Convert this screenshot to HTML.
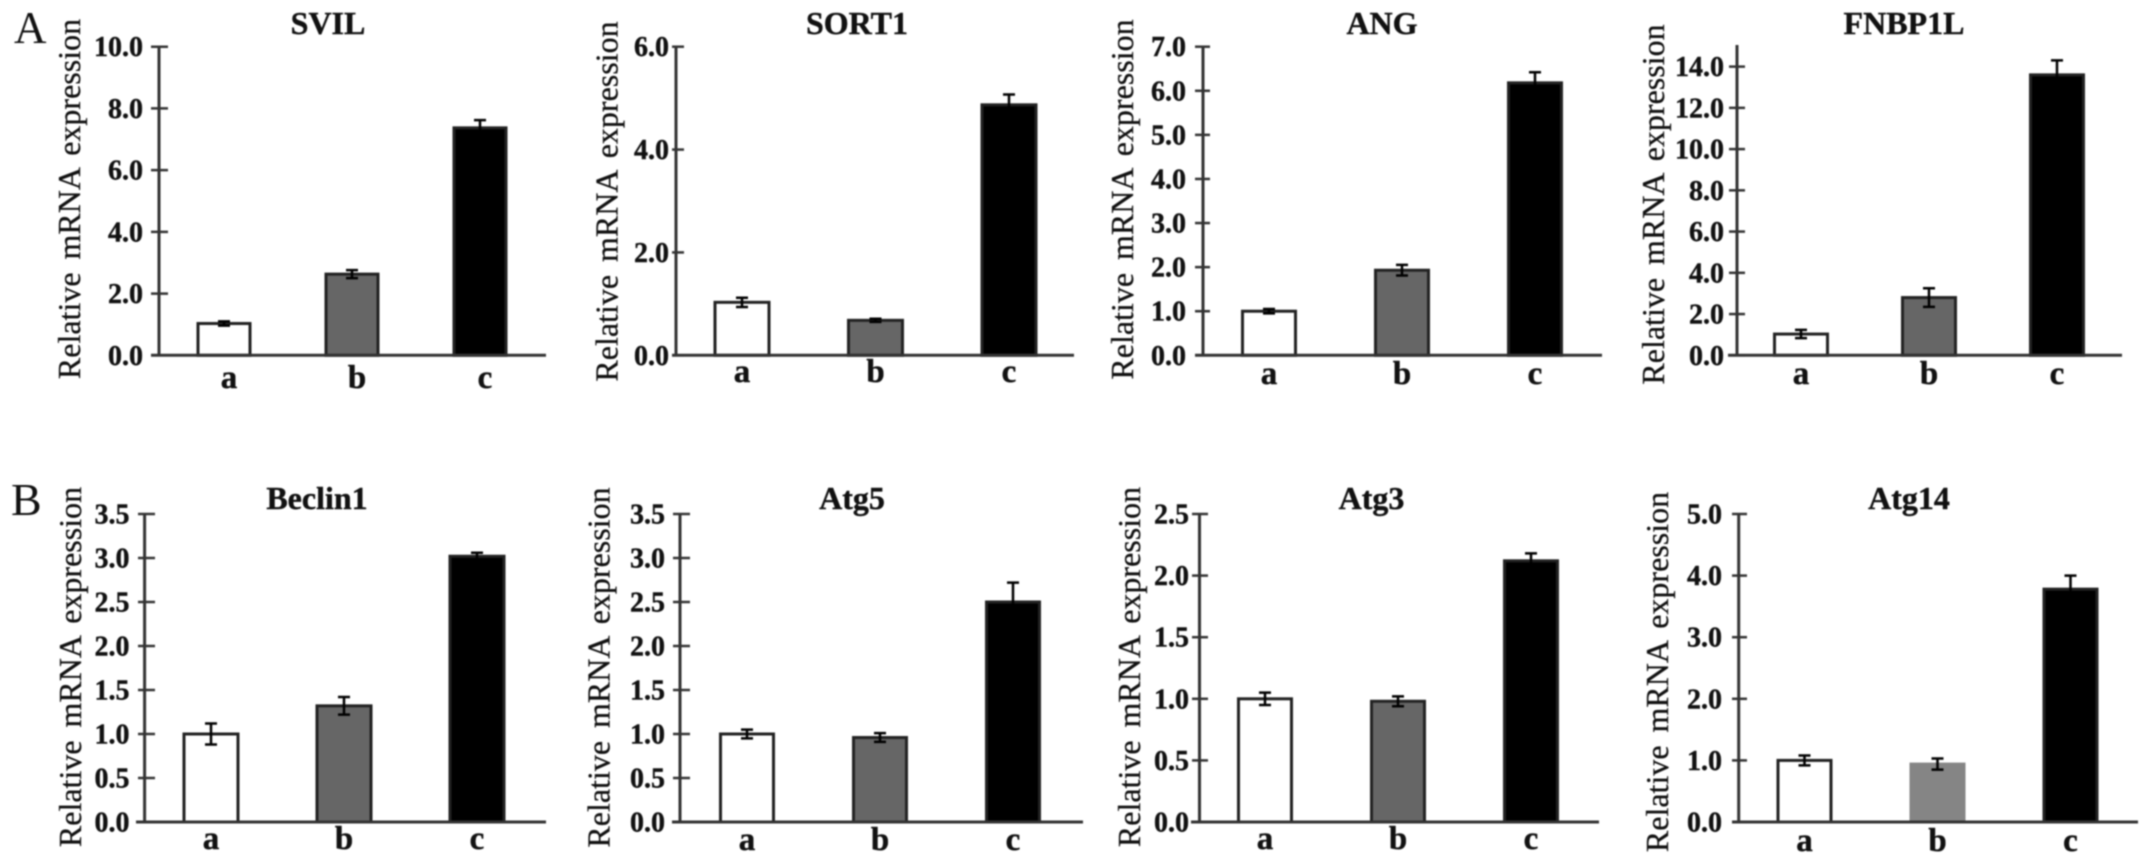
<!DOCTYPE html>
<html lang="en">
<head>
<meta charset="utf-8">
<title>Relative mRNA expression panels</title>
<style>
  html, body { margin: 0; padding: 0; background: #fff; }
  body { width: 2150px; height: 867px; overflow: hidden; }
  svg { display: block; filter: blur(0.8px); }
  text { font-family: "Liberation Serif", serif; fill: #111; }
  .bold { font-weight: bold; stroke: #111; stroke-width: 0.4px; }
  .ytitle { stroke: #111; stroke-width: 0.3px; word-spacing: 5px; }
</style>
</head>
<body>
<svg id="figure" xmlns="http://www.w3.org/2000/svg" width="2150" height="867" viewBox="0 0 2150 867">
  <rect x="0" y="0" width="2150" height="867" fill="#fff"></rect>
  <text x="14" y="43" font-size="45">A</text>
  <text x="11" y="515" font-size="46">B</text>
</svg>
<script>
// ---- chart data ----
const categories = ['a', 'b', 'c'];
const yAxisTitle = 'Relative mRNA expression';

const svilValues = [1.03, 2.63, 7.37];
const svilErrors = [0.07, 0.13, 0.25];
const svilTicks = ['0.0', '2.0', '4.0', '6.0', '8.0', '10.0'];

const sort1Values = [1.03, 0.68, 4.87];
const sort1Errors = [0.09, 0.03, 0.2];
const sort1Ticks = ['0.0', '2.0', '4.0', '6.0'];

const angValues = [1.0, 1.93, 6.18];
const angErrors = [0.05, 0.12, 0.24];
const angTicks = ['0.0', '1.0', '2.0', '3.0', '4.0', '5.0', '6.0', '7.0'];

const fnbp1lValues = [1.03, 2.8, 13.6];
const fnbp1lErrors = [0.2, 0.45, 0.7];
const fnbp1lTicks = ['0.0', '2.0', '4.0', '6.0', '8.0', '10.0', '12.0', '14.0'];

const beclin1Values = [1.0, 1.32, 3.02];
const beclin1Errors = [0.12, 0.1, 0.04];
const beclin1Ticks = ['0.0', '0.5', '1.0', '1.5', '2.0', '2.5', '3.0', '3.5'];

const atg5Values = [1.0, 0.96, 2.5];
const atg5Errors = [0.05, 0.05, 0.22];
const atg5Ticks = ['0.0', '0.5', '1.0', '1.5', '2.0', '2.5', '3.0', '3.5'];

const atg3Values = [1.0, 0.98, 2.12];
const atg3Errors = [0.05, 0.04, 0.06];
const atg3Ticks = ['0.0', '0.5', '1.0', '1.5', '2.0', '2.5'];

const atg14Values = [1.0, 0.94, 3.78];
const atg14Errors = [0.08, 0.09, 0.22];
const atg14Ticks = ['0.0', '1.0', '2.0', '3.0', '4.0', '5.0'];

// ---- panel definitions: data references plus layout ----
const panels = [
  { key: 'svil', title: 'SVIL', values: svilValues, errors: svilErrors, ticks: svilTicks, max: 10,
    top: 46.7, base: 355.3, axisX: 159, xL: 151, xR: 546, tL: 151, tR: 168, first: 224, step: 128, barW: 52, labelShift: 5, labelY: 388,
    tickRight: 143, titleX: 328, titleY: 34, ytX: 80, ytTop: 18, ytBottom: 380, fills: ['#fff', '#666', '#000'] },
  { key: 'sort1', title: 'SORT1', values: sort1Values, errors: sort1Errors, ticks: sort1Ticks, max: 6,
    top: 46.7, base: 355.3, axisX: 676, xL: 672, xR: 1074, tL: 672, tR: 684, first: 742, step: 133.5, barW: 54, labelShift: 0, labelY: 382,
    tickRight: 669, titleX: 857, titleY: 34, ytX: 617.5, ytTop: 21, ytBottom: 382, fills: ['#fff', '#666', '#000'] },
  { key: 'ang', title: 'ANG', values: angValues, errors: angErrors, ticks: angTicks, max: 7,
    top: 46.7, base: 355.3, axisX: 1203, xL: 1195, xR: 1602, tL: 1195, tR: 1210, first: 1269, step: 133, barW: 53, labelShift: 0, labelY: 384,
    tickRight: 1186, titleX: 1382, titleY: 34, ytX: 1133, ytTop: 19, ytBottom: 380, fills: ['#fff', '#666', '#000'] },
  { key: 'fnbp1l', title: 'FNBP1L', values: fnbp1lValues, errors: fnbp1lErrors, ticks: fnbp1lTicks, max: 15,
    top: 46, base: 355.3, axisX: 1737, xL: 1728, xR: 2122, tL: 1729, tR: 1745, first: 1801, step: 128, barW: 53, labelShift: 0, labelY: 384,
    tickRight: 1724, titleX: 1904, titleY: 34, ytX: 1664, ytTop: 24, ytBottom: 385, fills: ['#fff', '#666', '#000'] },
  { key: 'beclin1', title: 'Beclin1', values: beclin1Values, errors: beclin1Errors, ticks: beclin1Ticks, max: 3.5,
    top: 514, base: 822, axisX: 144.6, xL: 136, xR: 546, tL: 138, tR: 155, first: 211, step: 133, barW: 54, labelShift: 0, labelY: 849,
    tickRight: 129.5, titleX: 317, titleY: 509, ytX: 81, ytTop: 487, ytBottom: 847, fills: ['#fff', '#666', '#000'] },
  { key: 'atg5', title: 'Atg5', values: atg5Values, errors: atg5Errors, ticks: atg5Ticks, max: 3.5,
    top: 514, base: 822, axisX: 680, xL: 672, xR: 1083, tL: 673, tR: 690, first: 747, step: 133, barW: 53, labelShift: 0, labelY: 850,
    tickRight: 665, titleX: 852, titleY: 509, ytX: 609.5, ytTop: 487, ytBottom: 848, fills: ['#fff', '#666', '#000'] },
  { key: 'atg3', title: 'Atg3', values: atg3Values, errors: atg3Errors, ticks: atg3Ticks, max: 2.5,
    top: 514, base: 822, axisX: 1199.5, xL: 1191, xR: 1599, tL: 1192, tR: 1208, first: 1265, step: 133, barW: 53, labelShift: 0, labelY: 849,
    tickRight: 1189, titleX: 1371.5, titleY: 509, ytX: 1140, ytTop: 487, ytBottom: 847, fills: ['#fff', '#666', '#000'] },
  { key: 'atg14', title: 'Atg14', values: atg14Values, errors: atg14Errors, ticks: atg14Ticks, max: 5,
    top: 514, base: 822, axisX: 1738.7, xL: 1732, xR: 2138, tL: 1732, tR: 1747, first: 1804.5, step: 133, barW: 53, labelShift: 0, labelY: 851,
    tickRight: 1722, titleX: 1909, titleY: 509, ytX: 1668, ytTop: 492, ytBottom: 852, fills: ['#fff', '#858585', '#000'] }
];

const svgNS = 'http://www.w3.org/2000/svg';
const figure = document.getElementById('figure');
const AXIS_COLOR = '#333';

function make(parent, tag, attrs, content) {
  const node = document.createElementNS(svgNS, tag);
  for (const k in attrs) node.setAttribute(k, attrs[k]);
  if (content !== undefined) node.textContent = content;
  parent.appendChild(node);
  return node;
}

function drawPanel(p) {
  const yScale = v => p.base - (v / p.max) * (p.base - p.top);
  const xScale = i => p.first + i * p.step;

  const g = make(figure, 'g', {});
  
  

  const title = make(g, 'text', { x: p.titleX, y: p.titleY, 'text-anchor': 'middle', 'font-size': 32, class: 'bold' }, p.title);
  
  

  const ytY = (p.ytTop + p.ytBottom) / 2;
  const yTitle = make(g, 'text', {
    x: 0, y: 0, 'text-anchor': 'middle', 'font-size': 32, class: 'ytitle',
    transform: 'translate(' + p.ytX + ',' + ytY + ') rotate(-90)'
  }, yAxisTitle);
  
  

  p.values.forEach((v, i) => {
    const cx = xScale(i);
    const bar = make(g, 'rect', {
      x: cx - p.barW / 2, y: yScale(v), width: p.barW, height: p.base - yScale(v),
      fill: p.fills[i], stroke: i === 1 && p.key === 'atg14' ? '#858585' : '#222', 'stroke-width': 3
    });
    
    

    const hi = yScale(v + p.errors[i]);
    const lo = yScale(v - p.errors[i]);
    const err = make(g, 'path', {
      d: 'M' + (cx - 6) + ' ' + hi + 'H' + (cx + 6) + 'M' + cx + ' ' + hi + 'V' + lo + 'M' + (cx - 6) + ' ' + lo + 'H' + (cx + 6),
      fill: 'none', stroke: '#000', 'stroke-width': 2.5
    });
    
    

    const label = make(g, 'text', {
      x: cx + p.labelShift, y: p.labelY, 'text-anchor': 'middle', 'font-size': 33, class: 'bold'
    }, categories[i]);
    
    
  });

  const yAxis = make(g, 'line', { x1: p.axisX, x2: p.axisX, y1: p.top - 1, y2: p.base + 1, stroke: AXIS_COLOR, 'stroke-width': 3 });
  
  

  const xAxis = make(g, 'line', { x1: p.xL, x2: p.xR, y1: p.base, y2: p.base, stroke: AXIS_COLOR, 'stroke-width': 3 });
  
  

  p.ticks.forEach(t => {
    const y = yScale(parseFloat(t));
    const tick = make(g, 'line', { x1: p.tL, x2: p.tR, y1: y, y2: y, stroke: AXIS_COLOR, 'stroke-width': 2.5 });
    
    

    const label = make(g, 'text', { x: p.tickRight, y: y + 9.5, 'text-anchor': 'end', 'font-size': 28, class: 'bold' }, t);
    
    
  });
}

panels.forEach(drawPanel);
</script>
</body>
</html>
